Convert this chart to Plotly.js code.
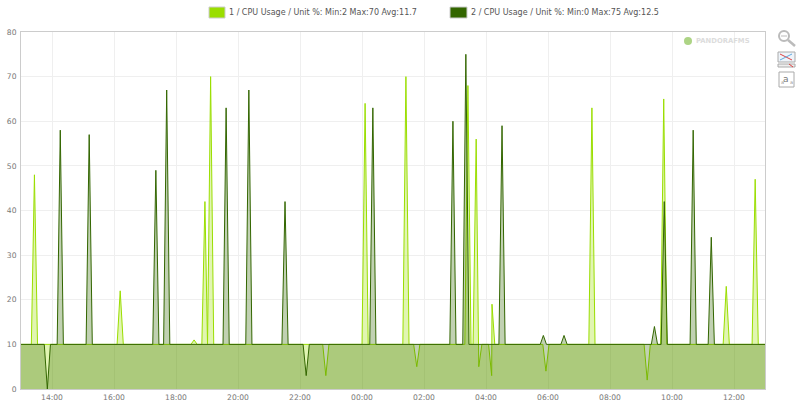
<!DOCTYPE html>
<html><head><meta charset="utf-8">
<script src="https://cdn.plot.ly/plotly-3.0.1.min.js"></script>
<style>html,body{margin:0;padding:0;background:#fff}#c{width:800px;height:412px}</style>
</head><body><div id="c"></div>
<script>
// Data. Times are minutes after the left edge of the axis (13:00).
var tickMinutes = [60,180,300,420,540,660,780,900,1020,1140,1260,1380];
var tickLabels = ["14:00","16:00","18:00","20:00","22:00","00:00","02:00","04:00","06:00","08:00","10:00","12:00"];
var yTicks = [0,10,20,30,40,50,60,70,80];

var series1Name = "1 / CPU Usage / Unit %: Min:2 Max:70 Avg:11.7";
var series1Minutes = [0,20,26,32,186,192,198,329,335,341,350,356,361,367,373,584,590,596,660,666,672,739,745,751,760,766,772,859,865,871,875,881,886,892,905,911,911.6,917,1010,1016,1022,1099,1105,1111,1206,1212,1218,1238,1244,1250,1359,1365,1371,1415,1421,1427,1440];
var series1Values  = [10,10,48,10,10,22,10,10,11,10,10,42,10,70,10,10,3,10,10,64,10,10,70,10,10,5,10,10,68,10,10,56,5,10,10,3,19,10,10,4,10,10,63,10,10,2,10,10,65,10,10,23,10,10,47,10,10];

var series2Name = "2 / CPU Usage / Unit %: Min:0 Max:75 Avg:12.5";
var series2Minutes = [0,45,51,57,70,76,82,126,132,138,255,261,267,276,282,288,391,397,403,435,441,447,505,511,517,546,552,558,675,681,687,830,836,842,855,861,867,925,931,937,1005,1011,1017,1045,1051,1057,1220,1226,1232,1239,1245,1251,1295,1301,1307,1330,1336,1342,1440];
var series2Values  = [10,10,0,10,10,58,10,10,57,10,10,49,10,10,67,10,10,63,10,10,67,10,10,42,10,10,3,10,10,63,10,10,60,10,10,75,10,10,59,10,10,12,10,10,12,10,10,14,10,10,42,10,10,58,10,10,34,10,10];

var W=800,H=412,L=21,R=765,T=32,B=389;
function px(x){return (x-L)/(R-L);}
function py(y){return (B-y)/(B-T);}
var shapes=[], ann=[];
function rect(x0,y0,x1,y1,fill,line,lw){shapes.push({type:'rect',xref:'paper',yref:'paper',x0:px(x0),x1:px(x1),y0:py(y0),y1:py(y1),fillcolor:fill,line:{color:line,width:lw===undefined?1:lw}});}
function seg(x0,y0,x1,y1,c,w){shapes.push({type:'line',xref:'paper',yref:'paper',x0:px(x0),x1:px(x1),y0:py(y0),y1:py(y1),line:{color:c,width:w}});}
function circ(x,y,r,fill,line,lw){shapes.push({type:'circle',xref:'paper',yref:'paper',x0:px(x-r),x1:px(x+r),y0:py(y+r),y1:py(y-r),fillcolor:fill,line:{color:line,width:lw}});}
function txt(x,y,t,size,col,anchor,fam){ann.push({xref:'paper',yref:'paper',x:px(x),y:py(y),text:t,showarrow:false,xanchor:anchor||'left',yanchor:'middle',borderpad:0,font:{family:fam||'"DejaVu Sans"',size:size,color:col}});}

// legend
rect(209,7,225,18,'#9ade00','#cccccc',1);
txt(228,13,series1Name,8,'#555555');
rect(450,7,467,18,'#336600','#cccccc',1);
txt(470,13,series2Name,8,'#555555');
// watermark
circ(688,41,4,'#add485','rgba(0,0,0,0)',0);
txt(695,41,'<b>PANDORAFMS</b>',6.8,'#dcdcdc');
// tool icons
circ(784,36,5,'#ffffff','#bbbbbb',2);
seg(788,40,795,46,'#bbbbbb',2.5);
seg(781,36,787,36,'#bbbbbb',1);
rect(778,52,795,62,'#eef4fa','#aaaaaa',1);
seg(780,54,792,60,'#e04040',1);
seg(780,60,792,54,'#60a8e0',1);
rect(778,64,795,67,'#eeeeee','#aaaaaa',1);
seg(789,64,793,67,'#e04040',1);
rect(779,72,794,87,'#ffffff','#aaaaaa',1);
txt(786.5,79,'a',9,'#777777','center');
txt(782,82,'a',5,'#999999','center');
txt(791,82,'a',5,'#999999','center');

var data=[
 {x:series1Minutes,y:series1Values,type:'scatter',mode:'lines',name:series1Name,fill:'tozeroy',fillcolor:'rgba(154,222,0,0.3)',line:{color:'#9ade00',width:1},hoverinfo:'skip'},
 {x:series2Minutes,y:series2Values,type:'scatter',mode:'lines',name:series2Name,fill:'tozeroy',fillcolor:'rgba(51,102,0,0.3)',line:{color:'#336600',width:1},hoverinfo:'skip'}
];
var layout={
 width:W,height:H,showlegend:false,paper_bgcolor:'#fff',plot_bgcolor:'#fff',
 margin:{l:L,r:W-R,t:T,b:H-B,pad:0},
 font:{family:'"DejaVu Sans"',size:7.6,color:'#777777'},
 xaxis:{range:[0,1440],tickmode:'array',tickvals:tickMinutes,ticktext:tickLabels,showgrid:true,gridcolor:'#efefef',gridwidth:1,zeroline:false,showline:true,linecolor:'#cccccc',linewidth:1,mirror:true,ticks:'',ticklabelstandoff:1,tickfont:{size:7.6,color:'#777777'}},
 yaxis:{range:[0,80],tickmode:'array',tickvals:yTicks,showgrid:true,gridcolor:'#efefef',gridwidth:1,zeroline:false,showline:true,linecolor:'#cccccc',linewidth:1,mirror:true,ticks:'',ticklabelstandoff:2,tickfont:{size:7.6,color:'#777777'}},
 shapes:shapes,annotations:ann
};
Plotly.newPlot('c',data,layout,{displayModeBar:false,staticPlot:true});
</script></body></html>
